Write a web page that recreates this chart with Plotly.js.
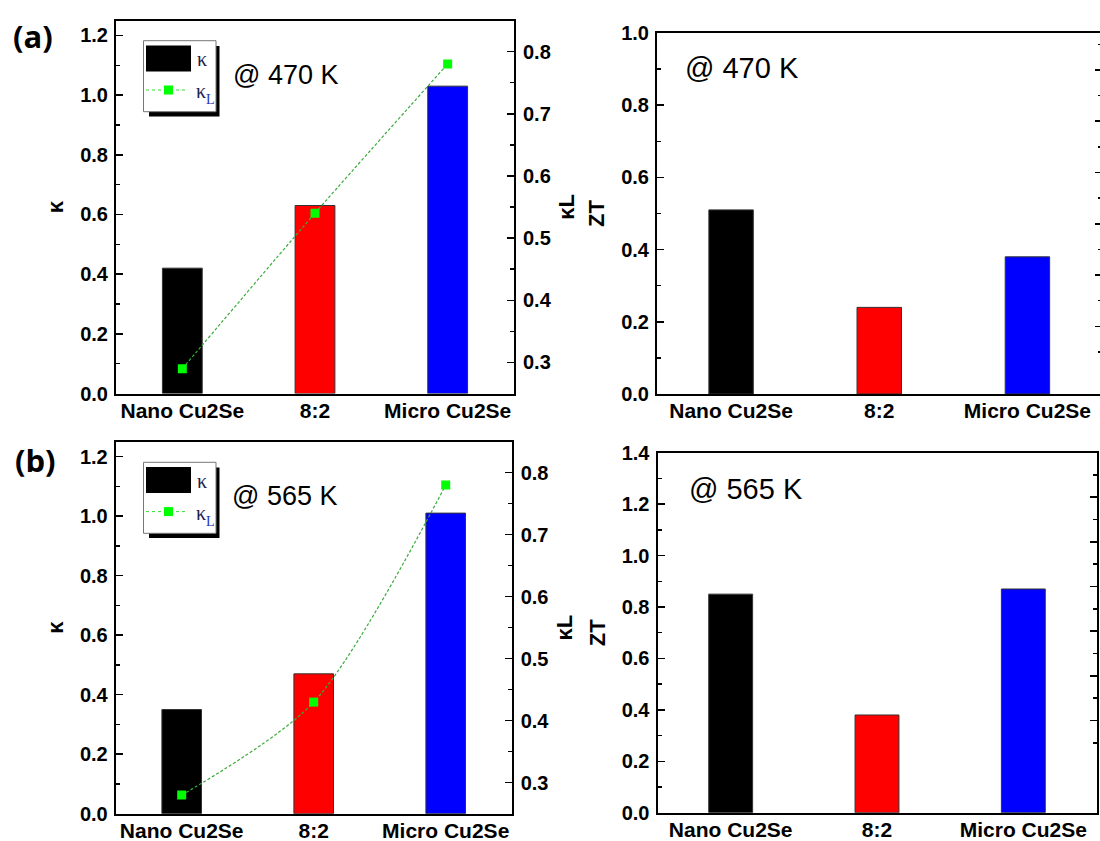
<!DOCTYPE html>
<html>
<head>
<meta charset="utf-8">
<script src="https://cdn.plot.ly/plotly-3.0.1.min.js"></script>
<style>
html,body{margin:0;padding:0;overflow:hidden;background:#fff;}
#chart{width:1104px;height:841px;}
</style>
</head>
<body>
<div id="chart"></div>
<script>
// ---- data ----
const categories = ['Nano Cu2Se', '8:2', 'Micro Cu2Se'];
const kappa470  = [0.42, 0.63, 1.03];
const kappaL470 = [0.29, 0.54, 0.78];
const zt470     = [0.51, 0.24, 0.38];
const kappa565  = [0.35, 0.47, 1.01];
const kappaL565 = [0.28, 0.43, 0.78];
const zt565     = [0.85, 0.38, 0.87];
const tempLabels = ['@ 470 K', '@ 565 K'];
const panelLabels = ['(a)', '(b)'];
const kappaLTicks = [0.3, 0.4, 0.5, 0.6, 0.7, 0.8];
const kappaLMinor = [0.25, 0.35, 0.45, 0.55, 0.65, 0.75, 0.85];

// ---- layout helpers ----
const W = 1104, H = 841;
const px = x => x / W;
const py = y => 1 - y / H;
const barColors = ['#000000', '#ff0000', '#0000ff'];
const FONT = 'Liberation Sans, Arial, sans-serif';
const tickFont = {family: FONT, size: 20, color: '#000', weight: 'bold'};
const titleFont = {family: FONT, size: 22, color: '#000', weight: 'bold'};

function barTrace(vals, xa, ya, name) {
  return {type: 'bar', x: categories, y: vals, xaxis: xa, yaxis: ya, name: name,
    width: 0.3, marker: {color: barColors, line: {color: '#333', width: 1}},
    showlegend: false, hoverinfo: 'x+y'};
}
function lineTrace(vals, xa, ya) {
  return {type: 'scatter', mode: 'lines+markers', x: categories, y: vals, xaxis: xa, yaxis: ya,
    name: 'κL', line: {color: '#3aab3a', width: 1.2, dash: '3px,2px', shape: 'spline', smoothing: 0.8},
    marker: {symbol: 'square', size: 9, color: '#00ff00', line: {width: 0}},
    showlegend: false};
}

const data = [
  barTrace(kappa470, 'x', 'y', 'κ'),
  lineTrace(kappaL470, 'x', 'y2'),
  barTrace(zt470, 'x2', 'y3', 'ZT'),
  barTrace(kappa565, 'x3', 'y5', 'κ'),
  lineTrace(kappaL565, 'x3', 'y6'),
  barTrace(zt565, 'x4', 'y7', 'ZT')
];
// invisible traces so the right-hand overlay axes of the ZT panels render
data.push({type: 'scatter', mode: 'markers', x: categories, y: [null, null, null], xaxis: 'x2', yaxis: 'y4', showlegend: false, hoverinfo: 'skip'});
data.push({type: 'scatter', mode: 'markers', x: categories, y: [null, null, null], xaxis: 'x4', yaxis: 'y8', showlegend: false, hoverinfo: 'skip'});

function xAx(l, r, anchor) {
  return {domain: [px(l), px(r)], anchor: anchor, type: 'category', range: [-0.5, 2.5],
    showline: true, linecolor: '#000', linewidth: 2, mirror: true, ticks: '',
    tickfont: {family: FONT, size: 21, color: '#000', weight: 'bold'},
    ticklabelstandoff: -3, showgrid: false, zeroline: false, fixedrange: true};
}
function yLeft(t, b, range, anchor, title) {
  return {domain: [py(b), py(t)], anchor: anchor, range: range, side: 'left',
    showline: true, linecolor: '#000', linewidth: 2, ticks: 'inside', ticklen: 7, tickwidth: 1.5,
    tickcolor: '#000', dtick: 0.2, tick0: 0, tickformat: '.1f', tickfont: tickFont,
    minor: {dtick: 0.1, tick0: 0, ticks: 'inside', ticklen: 4, tickwidth: 1.5, tickcolor: '#000'},
    ticklabelstandoff: 2, showgrid: false, zeroline: false,
    title: {text: title, font: titleFont, standoff: 10}};
}
function yRight(overlay, anchor, range, showLabels, title) {
  const ax = {overlaying: overlay, anchor: anchor, side: 'right', range: range,
    showline: true, linecolor: '#000', linewidth: 2, ticks: 'inside', ticklen: 7, tickwidth: 1.5,
    tickcolor: '#000', tickmode: 'array', tickvals: kappaLTicks, tickformat: '.1f',
    showticklabels: showLabels, tickfont: tickFont,
    minor: {tickmode: 'array', tickvals: kappaLMinor, ticks: 'inside', ticklen: 4, tickwidth: 1.5, tickcolor: '#000'},
    ticklabelstandoff: 3, showgrid: false, zeroline: false};
  if (title) ax.title = {text: title, font: titleFont, standoff: 8};
  return ax;
}

const layout = {
  width: W, height: H, autosize: false,
  margin: {l: 0, r: 0, t: 0, b: 0, pad: 0},
  paper_bgcolor: '#fff', plot_bgcolor: 'rgba(0,0,0,0)',
  showlegend: false,
  xaxis:  xAx(116, 514, 'y'),
  yaxis:  yLeft(20.5, 393.5, [0, 1.25], 'x', 'κ'),
  yaxis2: yRight('y', 'x', [0.25, 0.85], true, 'κL'),
  xaxis2: xAx(657, 1101.5, 'y3'),
  yaxis3: yLeft(33, 394, [0, 1.0], 'x2', 'ZT'),
  yaxis4: yRight('y3', 'x2', [0.168, 0.872], false, null),
  xaxis3: xAx(115.7, 511.7, 'y5'),
  yaxis5: yLeft(441.7, 813.7, [0, 1.25], 'x3', 'κ'),
  yaxis6: yRight('y5', 'x3', [0.25, 0.85], true, 'κL'),
  xaxis4: xAx(657.5, 1096.5, 'y7'),
  yaxis7: yLeft(452.7, 812.7, [0, 1.4], 'x4', 'ZT'),
  yaxis8: yRight('y7', 'x4', [0.0936, 0.8996], false, null),
  shapes: [], annotations: []
};

function legendBox(dy) {
  const S = layout.shapes;
  S.push({type: 'rect', xref: 'paper', yref: 'paper', x0: px(149), x1: px(219.5), y0: py(116.5 + dy), y1: py(46 + dy),
    fillcolor: '#000', line: {width: 0}, layer: 'above'});
  S.push({type: 'rect', xref: 'paper', yref: 'paper', x0: px(143.5), x1: px(216), y0: py(111.7 + dy), y1: py(40.7 + dy),
    fillcolor: '#fff', line: {color: '#777', width: 1}, layer: 'above'});
  S.push({type: 'rect', xref: 'paper', yref: 'paper', x0: px(146), x1: px(191), y0: py(71.5 + dy), y1: py(45.5 + dy),
    fillcolor: '#000', line: {width: 0}, layer: 'above'});
  S.push({type: 'line', xref: 'paper', yref: 'paper', x0: px(146), x1: px(188), y0: py(90 + dy), y1: py(90 + dy),
    line: {color: '#33dd33', width: 1, dash: '3px,3px'}, layer: 'above'});
  S.push({type: 'rect', xref: 'paper', yref: 'paper', x0: px(164), x1: px(173), y0: py(94.5 + dy), y1: py(85.5 + dy),
    fillcolor: '#00ff00', line: {width: 0}, layer: 'above'});
  const A = layout.annotations;
  const serif = 'Liberation Serif, serif';
  A.push({xref: 'paper', yref: 'paper', x: px(195), y: py(59 + dy), xanchor: 'left', yanchor: 'middle', showarrow: false,
    text: 'κ', font: {family: serif, size: 20, color: '#1c1c4c'}});
  A.push({xref: 'paper', yref: 'paper', x: px(194), y: py(91 + dy), xanchor: 'left', yanchor: 'middle', showarrow: false,
    text: 'κ', font: {family: serif, size: 20, color: '#1c1c4c'}});
  A.push({xref: 'paper', yref: 'paper', x: px(204), y: py(100 + dy), xanchor: 'left', yanchor: 'middle', showarrow: false,
    text: 'L', font: {family: serif, size: 14, color: '#2233bb'}});
}
legendBox(0);
legendBox(421.6);

function note(text, x, y, size, fam, weight) {
  layout.annotations.push({xref: 'paper', yref: 'paper', x: px(x), y: py(y), xanchor: 'center', yanchor: 'middle',
    showarrow: false, text: text, font: {family: fam, size: size, color: '#000', weight: weight || 'normal'}});
}
note(tempLabels[0], 285.5, 75, 27, FONT);
note(tempLabels[0], 742, 68, 29, FONT);
note(tempLabels[1], 284.5, 496, 27, FONT);
note(tempLabels[1], 746, 489, 29, FONT);
note(panelLabels[0], 33, 36, 31, 'Open Sans, Noto Sans, sans-serif', 'bold');
note(panelLabels[1], 35, 460, 31, 'Open Sans, Noto Sans, sans-serif', 'bold');

Plotly.newPlot('chart', data, layout, {staticPlot: true, displayModeBar: false});
</script>
</body>
</html>
